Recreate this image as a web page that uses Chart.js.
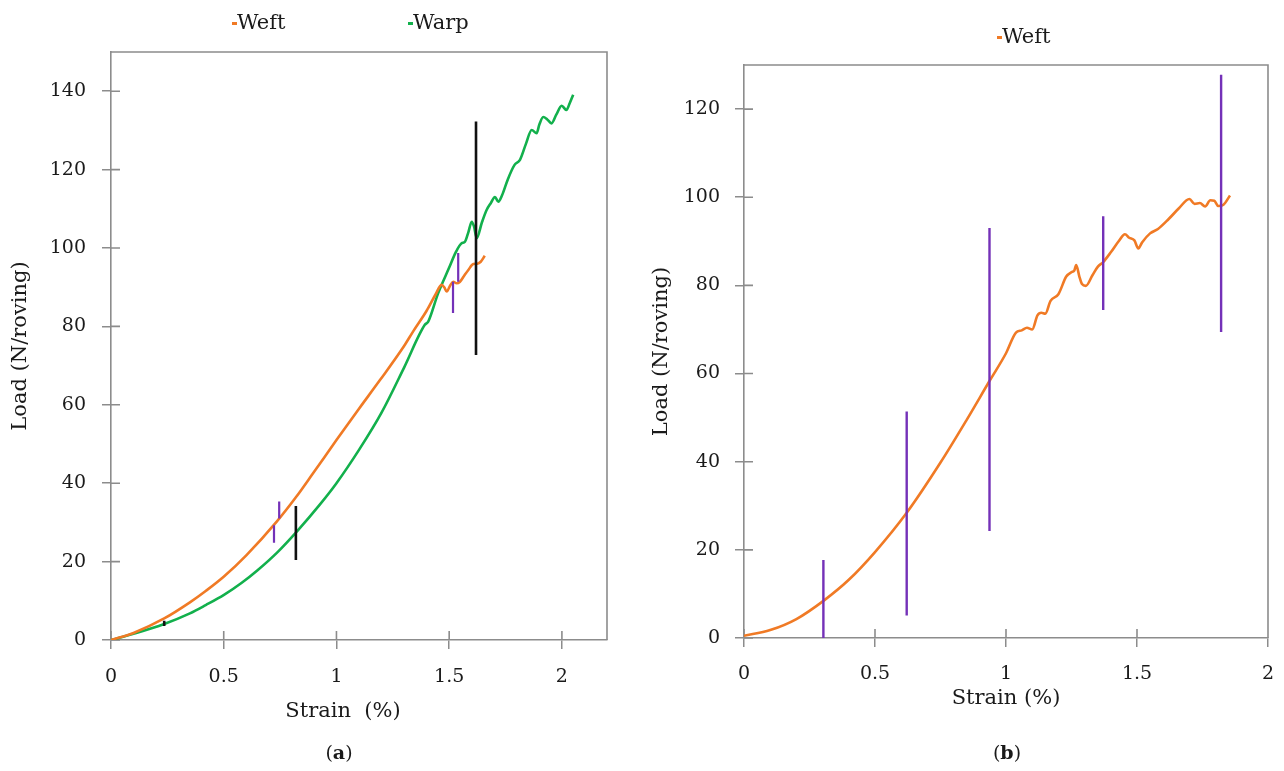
<!DOCTYPE html>
<html>
<head>
<meta charset="utf-8">
<script src="https://cdn.jsdelivr.net/npm/chart.js@4.4.1/dist/chart.umd.min.js"></script>
<style>
  html, body { margin: 0; padding: 0; background: #fff; }
  body { width: 1284px; height: 771px; position: relative; overflow: hidden;
         font-family: "DejaVu Serif", serif; color: #1a1a1a; }
  .panel { position: absolute; top: 0; height: 771px; }
  #panelA { left: 0; width: 640px; }
  #panelB { left: 640px; width: 644px; }
  .legend { position: absolute; font-size: 21px; line-height: 22px; white-space: nowrap; }
  .legend .dash { display: inline-block; width: 5px; height: 2.5px; vertical-align: middle; }
  .caption { position: absolute; top: 741px; font-size: 19px; line-height: 22px;
             transform: translateX(-50%); white-space: pre; }
  .axis-title { position: absolute; font-size: 21px; line-height: 24px;
                transform: translateX(-50%); white-space: pre; }
</style>
</head>
<body>
<div class="panel" id="panelA"><canvas id="chartA" width="640" height="771"></canvas></div>
<div class="panel" id="panelB"><canvas id="chartB" width="644" height="771"></canvas></div>
<div class="axis-title" id="strainTitleA" style="left:343px; top:698px"></div>
<div class="caption" style="left:339px">(<b>a</b>)</div>
<div class="caption" style="left:1007px">(<b>b</b>)</div>

<script>
// ---- panel (a): load-strain curves of both directions ----
const weftStrainA = [0, 0.1, 0.236, 0.35, 0.42, 0.501, 0.6, 0.735, 0.82, 0.897, 1.0, 1.1, 1.193, 1.3, 1.341,
  1.4, 1.44, 1.466, 1.478, 1.489, 1.505, 1.518, 1.533, 1.548, 1.565, 1.585, 1.607, 1.625, 1.64, 1.658];
const weftLoadA = [0, 1.8, 5.5, 9.6, 12.5, 16.2, 21.6, 30.2, 36.4, 42.6, 51, 59, 66.3, 75, 78.8,
  84, 88.2, 90.6, 90, 88.9, 90.5, 91.4, 91, 91.4, 92.8, 94.4, 95.9, 96, 96.5, 98];

const warpStrainA = [0, 0.1, 0.236, 0.35, 0.42, 0.501, 0.58, 0.65, 0.74, 0.823, 0.927, 1.0, 1.1, 1.2, 1.3,
  1.392, 1.407, 1.45, 1.5, 1.53, 1.555, 1.57, 1.585, 1.6, 1.61, 1.622, 1.645, 1.666, 1.685, 1.703, 1.718,
  1.735, 1.76, 1.79, 1.814, 1.84, 1.866, 1.888, 1.9, 1.917, 1.935, 1.954, 1.975, 1.999, 2.02, 2.035, 2.05];
const warpLoadA = [0, 1.6, 4.1, 6.8, 8.9, 11.5, 14.6, 17.8, 22.5, 27.6, 34.6, 40, 48.5, 58, 69.5,
  80.4, 81.2, 88.3, 95, 99, 101.2, 101.6, 104, 106.7, 105.5, 102.5, 106.5, 109.7, 111.5, 113, 111.8,
  113.5, 117.5, 121.2, 122.5, 126.5, 130.1, 129.3, 131.5, 133.4, 132.8, 131.8, 134, 136.3, 135.2, 137, 139.1];

// scatter ranges (vertical bars): strain position, lower and upper load
const weftBarStrainA = [0.723, 0.746, 1.517, 1.54];
const weftBarLowA = [24.8, 31.0, 83.4, 91.4];
const weftBarHighA = [29.3, 35.3, 91.4, 98.7];
const warpBarStrainA = [0.236, 0.82, 1.619];
const warpBarLowA = [3.6, 20.4, 72.7];
const warpBarHighA = [4.9, 34.2, 132.3];

// ---- panel (b): weft curve ----
const weftStrainB = [0, 0.1, 0.2, 0.307, 0.4, 0.5, 0.621, 0.75, 0.85, 0.937, 1.0, 1.038, 1.06, 1.08, 1.1,
  1.12, 1.135, 1.15, 1.17, 1.2, 1.23, 1.25, 1.26, 1.268, 1.28, 1.29, 1.305, 1.33, 1.35, 1.371, 1.4, 1.43,
  1.454, 1.47, 1.49, 1.505, 1.52, 1.55, 1.58, 1.62, 1.66, 1.7, 1.72, 1.74, 1.76, 1.78, 1.795, 1.81, 1.83, 1.855];
const weftLoadB = [0.5, 1.8, 4.3, 8.6, 13.2, 19.5, 28.4, 39.8, 49.5, 58.3, 64.6, 69.3, 69.8, 70.4, 70,
  73.2, 73.8, 73.6, 76.5, 78, 82, 83, 83.3, 84.6, 82, 80.3, 79.9, 82.3, 84.2, 85.3, 87.5, 90,
  91.6, 90.8, 90.2, 88.4, 89.8, 91.8, 92.8, 95, 97.5, 99.6, 98.5, 98.7, 97.9, 99.3, 99.2, 98, 98.3, 100.4];
const weftBarStrainB = [0.303, 0.621, 0.937, 1.371, 1.821];
const weftBarLowB = [0, 5.1, 24.3, 74.4, 69.4];
const weftBarHighB = [17.7, 51.4, 93, 95.7, 127.8];

// axis ticks, titles and series names
const strainTicks = [0, 0.5, 1, 1.5, 2];
const loadTicksA = [0, 20, 40, 60, 80, 100, 120, 140];
const loadTicksB = [0, 20, 40, 60, 80, 100, 120];
const strainTitleA = 'Strain  (%)';
const strainTitleB = 'Strain (%)';
const loadTitle = 'Load (N/roving)';
const seriesNamesA = ['Weft', 'Warp'];
const seriesNamesB = ['Weft'];

const ORANGE = '#f07a25';
const GREEN = '#12b04c';
const PURPLE = '#7431b8';
const BLACK = '#111111';
const AXIS = '#8c8c8c';
const TEXT = '#1a1a1a';
const FONT = '"DejaVu Serif", serif';

const pairs = (xs, ys) => xs.map((x, i) => ({ x: x, y: ys[i] }));
const bars = (xs, lo, hi) => xs.flatMap((x, i) => [{ x: x, y: lo[i] }, { x: x, y: hi[i] }, { x: x, y: null }]);

const curve = (label, xs, ys, color) => ({
  label: label, data: pairs(xs, ys), borderColor: color, backgroundColor: color,
  borderWidth: 2.6, pointRadius: 0, fill: false, cubicInterpolationMode: 'monotone'
});
const rangeBars = (xs, lo, hi, color, width) => ({
  label: '', data: bars(xs, lo, hi), borderColor: color, backgroundColor: color,
  borderWidth: width, pointRadius: 0, fill: false, tension: 0, spanGaps: false, isRange: true
});

// top/right edges of the plotting frame and the inner half of every tick mark
const frameAndTicks = {
  id: 'frameAndTicks',
  beforeDatasetsDraw(chart, args, opts) {
    const { ctx, chartArea: a, scales: { x, y } } = chart;
    ctx.save();
    ctx.strokeStyle = opts.color;
    ctx.lineWidth = opts.width;
    ctx.beginPath();
    ctx.moveTo(a.left, a.top);
    ctx.lineTo(a.right, a.top);
    ctx.lineTo(a.right, a.bottom);
    x.ticks.forEach(t => {
      const px = x.getPixelForValue(t.value);
      ctx.moveTo(px, a.bottom);
      ctx.lineTo(px, a.bottom - opts.len);
    });
    y.ticks.forEach(t => {
      const py = y.getPixelForValue(t.value);
      ctx.moveTo(a.left, py);
      ctx.lineTo(a.left + opts.len, py);
    });
    ctx.stroke();
    ctx.restore();
  }
};

function axis(min, max, ticks, title, fixedSize, isX, tickPad) {
  return {
    type: 'linear', min: min, max: max,
    afterBuildTicks: s => { s.ticks = ticks.map(v => ({ value: v })); },
    afterFit: s => {
      // fixed axis band; the layout padding alone sets the plot edges
      if (isX) s.height = fixedSize; else s.width = fixedSize;
      s.paddingLeft = 0; s.paddingRight = 0; s.paddingTop = 0; s.paddingBottom = 0;
    },
    grid: { drawOnChartArea: false, drawTicks: true, tickLength: 9, color: AXIS, lineWidth: 1.5 },
    border: { color: AXIS, width: 1.6 },
    ticks: { font: { family: FONT, size: 19 }, color: TEXT, padding: tickPad, maxRotation: 0, autoSkip: false,
             callback: v => String(v) },
    title: { display: title !== null, text: title || '', color: TEXT, font: { family: FONT, size: 21 },
             padding: { top: 0, bottom: 0 } }
  };
}

function makeChart(id, datasets, padding, xAxis, yAxis) {
  return new Chart(document.getElementById(id), {
    type: 'line',
    data: { datasets: datasets },
    options: {
      responsive: false, animation: false,
      layout: { padding: padding },
      plugins: {
        legend: { display: false }, tooltip: { enabled: false },
        frameAndTicks: { color: AXIS, width: 1.6, len: 9 }
      },
      scales: { x: xAxis, y: yAxis }
    },
    plugins: [frameAndTicks]
  });
}

// panel (a): its strain title sits a little left of the plot centre, so it is set as page text
const chartA = makeChart('chartA', [
  rangeBars(warpBarStrainA, warpBarLowA, warpBarHighA, BLACK, 2.6),
  rangeBars(weftBarStrainA, weftBarLowA, weftBarHighA, PURPLE, 2.2),
  curve(seriesNamesA[0], weftStrainA, weftLoadA, ORANGE),
  curve(seriesNamesA[1], warpStrainA, warpLoadA, GREEN)
], { left: 8, right: 33, top: 52, bottom: 48 },
  axis(0, 2.2, strainTicks, null, 83, true, 17),
  axis(0, 150, loadTicksA, loadTitle, 103, false, 16));
document.getElementById('strainTitleA').textContent = strainTitleA;

const chartB = makeChart('chartB', [
  rangeBars(weftBarStrainB, weftBarLowB, weftBarHighB, PURPLE, 2.4),
  curve(seriesNamesB[0], weftStrainB, weftLoadB, ORANGE)
], { left: 9, right: 16, top: 65, bottom: 60 },
  axis(0, 2, strainTicks, strainTitleB, 73, true, 16),
  axis(0, 130, loadTicksB, loadTitle, 95, false, 15));

// legends built from the curve datasets: a short coloured dash followed by the name
function legend(chart, panelId, lefts, top) {
  const panel = document.getElementById(panelId);
  chart.data.datasets.filter(d => !d.isRange).forEach((d, i) => {
    const item = document.createElement('div');
    item.className = 'legend';
    item.style.left = lefts[i] + 'px';
    item.style.top = top + 'px';
    const dash = document.createElement('span');
    dash.className = 'dash';
    dash.style.background = d.borderColor;
    item.appendChild(dash);
    item.appendChild(document.createTextNode(d.label));
    panel.appendChild(item);
  });
}
legend(chartA, 'panelA', [232, 408], 11);
legend(chartB, 'panelB', [357], 25);
</script>
</body>
</html>
